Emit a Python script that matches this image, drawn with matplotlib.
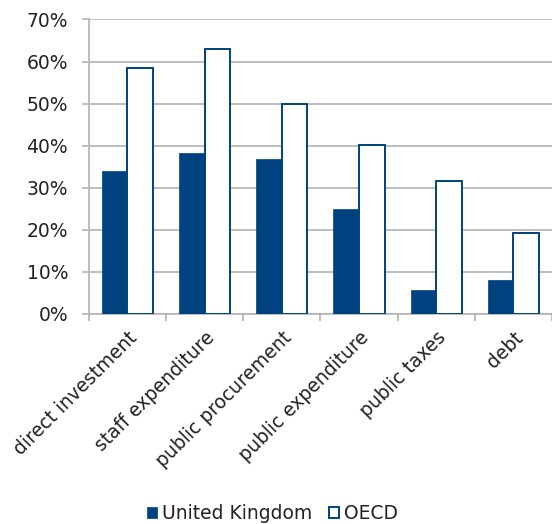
import matplotlib.pyplot as plt
import numpy as np
from matplotlib.ticker import FuncFormatter, MultipleLocator

# 数据
categories = ['direct investment', 'staff expenditure', 'public procurement',
              'public expenditure', 'public taxes', 'debt']
uk_values = [34.0, 38.3, 36.8, 24.9, 5.8, 8.0]
oecd_values = [58.5, 63.1, 49.8, 40.1, 31.6, 19.2]

blue = '#00427f'
grid_gray = '#b3b3b3'
text_color = '#222222'

plt.rcParams['font.family'] = ['DejaVu Sans']

fig = plt.figure(figsize=(5.52, 5.24), dpi=100)
ax = fig.add_axes([0.161, 0.4008, 0.839, 0.5620])

x = np.arange(len(categories))
w = 0.332
ax.bar(x - w / 2, uk_values, w, color=blue, edgecolor=blue, linewidth=0.5,
       label='United Kingdom', zorder=3)
ax.bar(x + w / 2, oecd_values, w, color='white', edgecolor=blue, linewidth=1.4,
       label='OECD', zorder=3)

# 坐标轴
ax.set_xlim(-0.5, len(categories) - 0.5)
ax.set_ylim(0, 70)
ax.yaxis.set_major_locator(MultipleLocator(10))
ax.yaxis.set_major_formatter(FuncFormatter(lambda v, p: f'{v:.0f}%'))
ax.grid(axis='y', color=grid_gray, linewidth=1.2, zorder=0)

ax.set_xticks(x)
ax.set_xticklabels(categories, rotation=45, ha='right', rotation_mode='anchor',
                   fontsize=13.5, color=text_color)
ax.set_xticks(np.arange(len(categories) + 1) - 0.5, minor=True)
ax.tick_params(axis='x', which='major', length=0, pad=10)
ax.tick_params(axis='x', which='minor', length=5, width=1.2, color=grid_gray)
ax.tick_params(axis='y', length=5, width=1.2, color=grid_gray, labelsize=13.5,
               labelcolor=text_color, pad=10)

for side in ['top', 'right']:
    ax.spines[side].set_visible(False)
for side in ['left', 'bottom']:
    ax.spines[side].set_color(grid_gray)
    ax.spines[side].set_linewidth(1.2)

# 图例
leg = fig.legend(loc='lower center', bbox_to_anchor=(0.493, -0.03), ncol=2,
                 frameon=False, fontsize=13.5, handlelength=0.55, handleheight=0.55,
                 handletextpad=0.25, columnspacing=0.9)
for t in leg.get_texts():
    t.set_color(text_color)

plt.savefig('out.png', dpi=100)
